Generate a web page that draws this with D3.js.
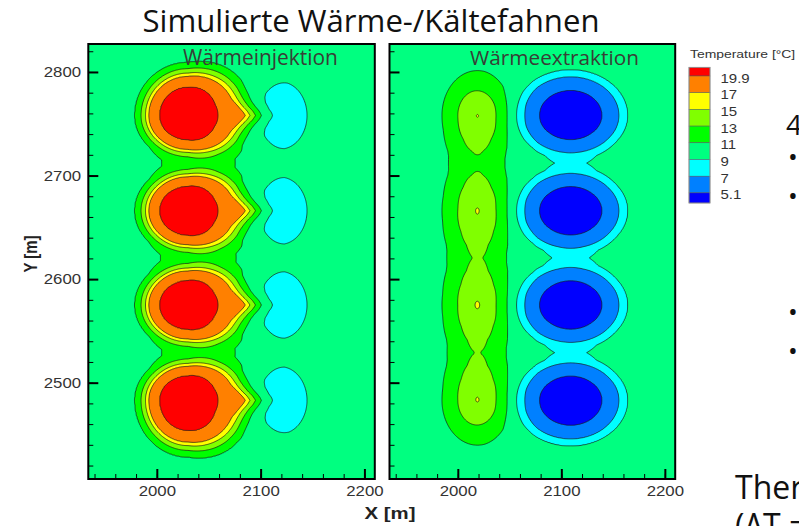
<!DOCTYPE html>
<html>
<head>
<meta charset="utf-8">
<script src="https://cdn.jsdelivr.net/npm/d3@7"></script>
<style>
body { margin: 0; background: #fff; }
svg { display: block; }
</style>
</head>
<body>
<svg id="chart" width="799" height="526"></svg>
<script>
var svgWidth = 799;
var svgHeight = 526;

// temperature bands (°C), low to high, and their colours
var levels = [5.1, 7, 9, 11, 13, 15, 17, 19.9];
var bandColors = ["#0000ff", "#0080ff", "#00ffff", "#00ff80", "#00ff00", "#80ff00", "#ffff00", "#ff8000", "#ff0000"];
var legendLabels = ["19.9", "17", "15", "13", "11", "9", "7", "5.1"];
var ambient = 10;

// well rows (Y [m])
var wellY = [2758, 2666, 2575, 2483];

// Wärmeinjektion: hot plumes at the warm wells
var hotX = [2030, 2030, 2030, 2030];
var hotRyNorth = [43, 37, 37, 37];
var hotRySouth = [37, 37, 37, 46];
var hotRyGrowEast = 7;
var hotRx = 43;
var hotStretchEast = 0.22;
var hotTip = 1.15;
var hotProfileR = [0, 0.64, 0.88, 0.95, 1.05, 1.19, 1.45, 1.9];
var hotProfileT = [11, 9.9, 7, 5, 3, 1, 0.3, 0];

// Wärmeinjektion: warm streak pointing from each plume to the east
var streakX = [2092, 2092, 2092, 2092];
var streakRx = 22;
var streakRy = 9;
var streakProfileR = [0, 0.5, 1, 1.5, 2];
var streakProfileT = [1.6, 1.3, 0.6, 0.15, 0];

// Wärmeinjektion: cold crescents at the cold wells
var cresX = [2119, 2119, 2119, 2119];
var cresRx = 23;
var cresRy = 29;
var cresProfileR = [0, 0.5, 1, 1.5, 2];
var cresProfileT = [-2.6, -2.2, -1.2, -0.35, 0];

// Wärmeextraktion: cold plumes at the cold wells
var coldX = [2109, 2109, 2109, 2109];
var coldRyNorth = [44, 42, 42, 42];
var coldRySouth = [42, 42, 42, 44];
var coldRx = 55;
var coldProfileR = [0, 0.55, 0.85, 1.0, 1.13, 1.35, 1.8];
var coldProfileT = [-6.5, -4.9, -3, -1, -0.5, -0.1, 0];

// Wärmeextraktion: warm residue at the warm wells
var resX = [2019, 2019, 2019, 2019];
var resRx = 19;
var resRyNorth = [24, 29, 30.3, 30.3];
var resRySouth = [29, 30.3, 30.3, 24];
var resProfileR = [0, 0.5, 1, 1.5, 2, 2.5, 3.2];
var resProfileT = [5.1, 4.4, 3, 1.55, 0.65, 0.2, 0];

// axes
var xDomain = [1934, 2210];
var yDomain = [2407, 2827];
var xMajor = [2000, 2100, 2200];
var yMajor = [2500, 2600, 2700, 2800];
var xMinor = d3.range(1940, 2211, 20);
var yMinor = d3.range(2420, 2821, 20);

var svg = d3.select("#chart");

var hotScale = d3.scaleLinear().domain(hotProfileR).range(hotProfileT).clamp(true);
var streakScale = d3.scaleLinear().domain(streakProfileR).range(streakProfileT).clamp(true);
var cresScale = d3.scaleLinear().domain(cresProfileR).range(cresProfileT).clamp(true);
var coldScale = d3.scaleLinear().domain(coldProfileR).range(coldProfileT).clamp(true);
var resScale = d3.scaleLinear().domain(resProfileR).range(resProfileT).clamp(true);

function clamp01(a) { return Math.max(0, Math.min(1, a)); }

// gauge of the hull of the unit circle and the tip (t, 0)
function tearGauge(u, v, t) {
    var r = Math.hypot(u, v);
    if (u <= 0 || t <= 1) return r;
    var ca = 1 / t, sa = Math.sqrt(1 - ca * ca);
    if (Math.abs(v) * ca <= u * sa) return u * ca + Math.abs(v) * sa;
    return r;
}

function injectionT(X, Y) {
    var T = ambient;
    for (var i = 0; i < wellY.length; i++) {
        var dx = X - hotX[i], dy = Y - wellY[i];
        var ry = (dy > 0 ? hotRyNorth[i] : hotRySouth[i]);
        var u0 = dx / hotRx;
        var rc = Math.hypot(u0, dy / ry);
        var u = dx > 0 ? dx / (hotRx * (1 + hotStretchEast * clamp01((rc - 0.6) / 0.5))) : u0;
        if (dx > 0) ry += hotRyGrowEast * clamp01(u);
        var t = 1 + (hotTip - 1) * clamp01((rc - 0.75) / 0.4);
        T += hotScale(tearGauge(u, dy / ry, t));
        T += streakScale(Math.hypot((X - streakX[i]) / streakRx, dy / streakRy));
        T += cresScale(Math.hypot((X - cresX[i]) / cresRx, dy / cresRy));
    }
    return T;
}

function extractionT(X, Y) {
    var T = ambient;
    for (var i = 0; i < wellY.length; i++) {
        var dy = Y - wellY[i];
        var v = dy / (dy > 0 ? coldRyNorth[i] : coldRySouth[i]);
        T += coldScale(Math.hypot((X - coldX[i]) / coldRx, v));
        var w = dy / (dy > 0 ? resRyNorth[i] : resRySouth[i]);
        T += resScale(Math.hypot((X - resX[i]) / resRx, w));
    }
    return T;
}

var yScale = d3.scaleLinear().domain(yDomain).range([479, 44]);

var panels = [
    { title: "Wärmeinjektion", range: [88.3, 374.8], field: injectionT, labels: true, titleX: 260.5, titleW: 155 },
    { title: "Wärmeextraktion", range: [389.5, 675.2], field: extractionT, labels: false, titleX: 554.5, titleW: 169 }
];

var nx = xDomain[1] - xDomain[0] + 1;
var ny = yDomain[1] - yDomain[0] + 1;

var stretch = "scale(1.2,1)";

function fitText(sel, target) {
    var len = sel.node().getComputedTextLength();
    var fs = parseFloat(sel.attr("font-size"));
    sel.attr("font-size", fs * target / len);
}

panels.forEach(function(p, k) {
    var xScale = d3.scaleLinear().domain(xDomain).range(p.range);
    var values = new Float64Array(nx * ny);
    for (var j = 0; j < ny; j++) {
        for (var i = 0; i < nx; i++) {
            values[j * nx + i] = p.field(xDomain[0] + i, yDomain[1] - j);
        }
    }
    var contours = d3.contours().size([nx, ny]).thresholds(levels)(values);

    var path = d3.geoPath(d3.geoTransform({
        point: function(gx, gy) {
            this.stream.point(xScale(xDomain[0] + gx - 0.5), yScale(yDomain[1] - gy + 0.5));
        }
    }));

    var x0 = p.range[0], x1 = p.range[1];
    var top = yScale(yDomain[1]), bottom = yScale(yDomain[0]);
    svg.append("clipPath").attr("id", "clip" + k)
        .append("rect")
        .attr("x", x0).attr("y", top)
        .attr("width", x1 - x0).attr("height", bottom - top);

    var g = svg.append("g").attr("clip-path", "url(#clip" + k + ")");
    g.append("rect")
        .attr("x", x0).attr("y", top)
        .attr("width", x1 - x0).attr("height", bottom - top)
        .attr("fill", bandColors[0]);
    g.selectAll("path")
        .data(contours)
        .enter()
        .append("path")
        .attr("d", path)
        .attr("fill", function(d, i) { return bandColors[i + 1]; })
        .attr("stroke", "#1a1a1a")
        .attr("stroke-width", 0.7)
        .attr("stroke-linejoin", "round");

    // minor and major ticks, pointing inward
    svg.append("g")
        .attr("transform", "translate(" + x0 + ",0)")
        .call(d3.axisLeft(yScale).tickValues(yMinor).tickSize(-5).tickFormat(""))
        .call(function(a) { a.select(".domain").remove(); a.selectAll("line").attr("stroke", "#000").attr("stroke-width", 1); });
    var yAxis = svg.append("g")
        .attr("transform", "translate(" + x0 + ",0)")
        .call(d3.axisLeft(yScale).tickValues(yMajor).tickSize(-10).tickPadding(6)
            .tickFormat(p.labels ? d3.format("d") : ""));
    yAxis.select(".domain").remove();
    yAxis.selectAll("line").attr("stroke", "#000").attr("stroke-width", 2);
    yAxis.selectAll("text")
        .attr("font-family", "Liberation Sans, Arial, sans-serif")
        .attr("font-size", 14).attr("fill", "#333")
        .attr("transform", stretch);

    svg.append("g")
        .attr("transform", "translate(0," + bottom + ")")
        .call(d3.axisBottom(xScale).tickValues(xMinor).tickSize(-5).tickFormat(""))
        .call(function(a) { a.select(".domain").remove(); a.selectAll("line").attr("stroke", "#000").attr("stroke-width", 1); });
    var xAxis = svg.append("g")
        .attr("transform", "translate(0," + bottom + ")")
        .call(d3.axisBottom(xScale).tickValues(xMajor).tickSize(-10).tickPadding(7).tickFormat(d3.format("d")));
    xAxis.select(".domain").remove();
    xAxis.selectAll("line").attr("stroke", "#000").attr("stroke-width", 2);
    xAxis.selectAll("text")
        .attr("font-family", "Liberation Sans, Arial, sans-serif")
        .attr("font-size", 14).attr("fill", "#333")
        .attr("transform", stretch);

    // frame
    svg.append("rect")
        .attr("x", x0).attr("y", top)
        .attr("width", x1 - x0).attr("height", bottom - top)
        .attr("fill", "none").attr("stroke", "#000").attr("stroke-width", 2);

    // panel caption
    var cap = svg.append("text")
        .attr("x", p.titleX).attr("y", 65)
        .attr("text-anchor", "middle")
        .attr("font-family", "Open Sans, sans-serif")
        .attr("font-size", 19)
        .attr("fill", "#384036")
        .text(p.title);
    fitText(cap, p.titleW);
});

// axis titles
svg.append("text")
    .attr("transform", "translate(390,519) " + stretch)
    .attr("text-anchor", "middle")
    .attr("font-family", "Liberation Sans, Arial, sans-serif")
    .attr("font-weight", "bold")
    .attr("font-size", 17)
    .attr("fill", "#222")
    .text("X [m]");
svg.append("text")
    .attr("transform", "translate(37,254) rotate(-90) scale(1,1.2)")
    .attr("text-anchor", "middle")
    .attr("font-family", "Liberation Sans, Arial, sans-serif")
    .attr("font-weight", "bold")
    .attr("font-size", 15)
    .attr("fill", "#222")
    .text("Y [m]");

// title
var title = svg.append("text")
    .attr("x", 371).attr("y", 32)
    .attr("text-anchor", "middle")
    .attr("font-family", "Open Sans, sans-serif")
    .attr("font-size", 26)
    .attr("fill", "#111")
    .text("Simulierte Wärme-/Kältefahnen");
fitText(title, 457);

// legend
var legend = svg.append("g");
legend.append("text")
    .attr("transform", "translate(690,58) " + stretch)
    .attr("font-family", "Liberation Sans, Arial, sans-serif")
    .attr("font-size", 11.6)
    .attr("fill", "#333")
    .text("Temperature [°C]");

var legTop = 67.3, legRow = 16.7, legEnd = 76;
var boxEdges = [legTop];
for (var b = 0; b < legendLabels.length; b++) boxEdges.push(legEnd + b * legRow);
boxEdges.push(203);
var legColors = bandColors.slice().reverse();
legColors.forEach(function(c, i) {
    legend.append("rect")
        .attr("x", 689).attr("y", boxEdges[i])
        .attr("width", 21).attr("height", boxEdges[i + 1] - boxEdges[i])
        .attr("fill", c)
        .attr("stroke", "#555").attr("stroke-width", 0.5);
});
legend.append("rect")
    .attr("x", 689).attr("y", legTop)
    .attr("width", 21).attr("height", 203 - legTop)
    .attr("fill", "none").attr("stroke", "#999").attr("stroke-width", 0.8);
legendLabels.forEach(function(l, i) {
    legend.append("text")
        .attr("transform", "translate(720.5," + (boxEdges[i + 1] + 6.5) + ") " + stretch)
        .attr("font-family", "Liberation Sans, Arial, sans-serif")
        .attr("font-size", 12.5)
        .attr("fill", "#333")
        .text(l);
});

// slide text around the figure, cut off at the edges
var slideFont = "Open Sans, sans-serif";
svg.append("text").attr("x", 786).attr("y", 135)
    .attr("font-family", slideFont).attr("font-size", 28).attr("fill", "#111").text("4");
[158.3, 196.7, 313.3, 351.7].forEach(function(y) {
    svg.append("text").attr("x", 793).attr("y", y + 8)
        .attr("text-anchor", "middle")
        .attr("font-family", slideFont).attr("font-size", 26).attr("fill", "#111").text("•");
});
svg.append("text").attr("x", 735).attr("y", 499)
    .attr("font-family", slideFont).attr("font-size", 32).attr("fill", "#111").text("Ther");
svg.append("text").attr("x", 735).attr("y", 537)
    .attr("font-family", slideFont).attr("font-size", 32).attr("fill", "#111").text("(ΔT =");
</script>
</body>
</html>
